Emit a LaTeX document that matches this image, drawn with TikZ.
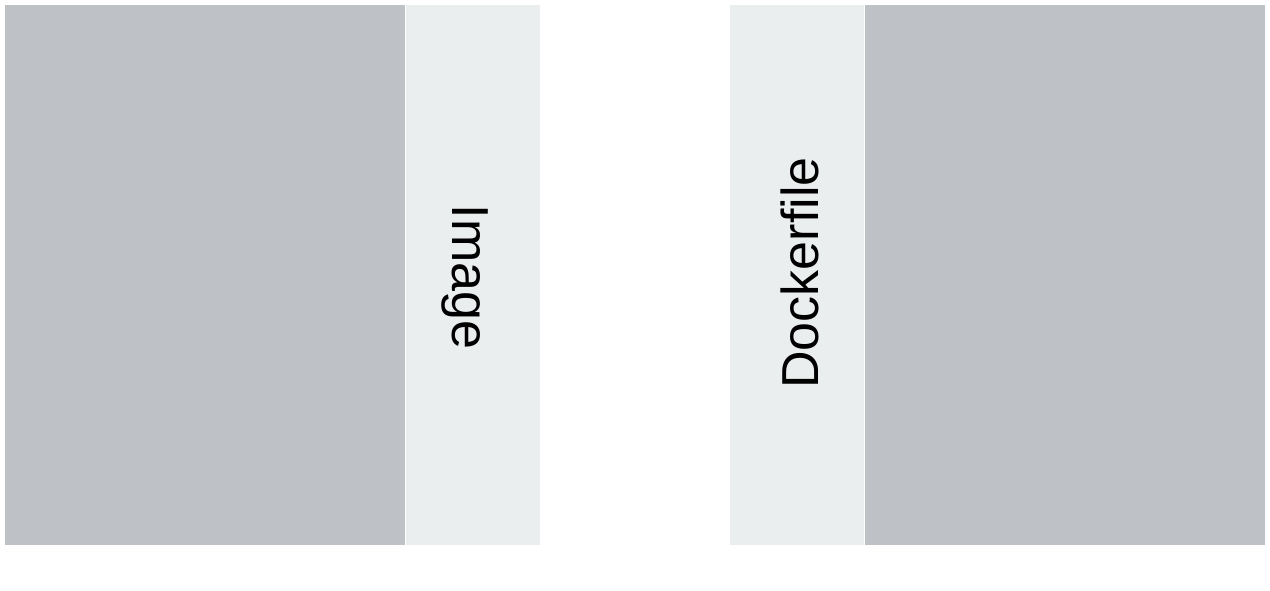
\documentclass[tikz,border=0pt]{standalone}
\usepackage{fontspec}
\setmainfont{Liberation Sans}
\usetikzlibrary{positioning}
\definecolor{panelgray}{RGB}{190,194,198}
\definecolor{stripfill}{RGB}{235,238,239}
\tikzset{
  panel/.style={fill=panelgray,draw=none,inner sep=0pt,minimum width=400pt,minimum height=540pt},
  strip/.style={fill=stripfill,draw=none,inner sep=0pt,minimum width=134pt,minimum height=540pt},
  lbl/.style={font=\fontsize{52}{60}\selectfont,inner sep=0pt,text=black},
}
\begin{document}
\begin{tikzpicture}[x=1pt,y=-1pt]
\useasboundingbox (0,0) rectangle (1270,590);
\node[panel,anchor=north west] (imgpanel) at (5,5) {};
\node[strip,anchor=north west] (imgstrip) at (imgpanel.north east) {};
\node[panel,anchor=north east] (dfpanel) at (1265,5) {};
\node[strip,anchor=north east] (dfstrip) at (dfpanel.north west) {};
\node[lbl,rotate=-90] (imglbl) at (465,277) {Image};
\node[lbl,rotate=90] (dflbl) at (800,273) {Dockerfile};
\end{tikzpicture}
\end{document}
